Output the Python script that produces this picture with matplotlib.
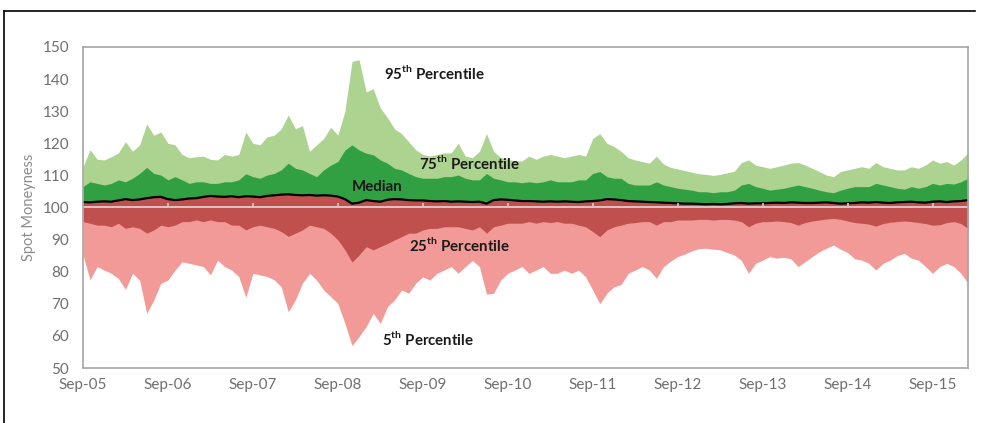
import numpy as np
import matplotlib
matplotlib.use("Agg")
import matplotlib.pyplot as plt
from matplotlib.lines import Line2D

plt.rcParams["font.family"] = ["Lato", "DejaVu Sans"]
plt.rcParams["mathtext.fontset"] = "custom"
plt.rcParams["mathtext.rm"] = "Lato"
plt.rcParams["mathtext.bf"] = "Lato:bold"

# monthly readings, Sep-05 .. Feb-16
p95 = [112.7, 118.0, 115.0, 114.8, 115.8, 117.0, 120.5, 117.5, 119.5, 126.0, 122.5, 123.5,
       120.0, 119.5, 116.5, 115.5, 115.8, 116.0, 115.0, 114.8, 116.5, 116.0, 116.5, 123.5,
       120.0, 119.5, 122.0, 122.5, 124.5, 128.8, 124.5, 125.5, 117.5, 119.5, 121.5, 125.0,
       122.5, 130.0, 145.5, 146.0, 136.0, 137.0, 131.0, 128.0, 124.5, 123.0, 120.5, 118.0,
       116.5, 116.0, 116.5, 117.0, 117.0, 120.0, 116.0, 115.5, 117.5, 123.0, 117.5, 115.5,
       115.0, 114.5, 114.5, 116.0, 115.0, 116.0, 116.5, 116.0, 115.5, 116.0, 116.5, 116.0,
       121.5, 123.0, 120.0, 119.0, 117.5, 115.5, 114.8, 114.3, 113.8, 116.0, 113.5, 112.5,
       112.0, 111.5, 111.0, 110.5, 110.3, 110.0, 110.3, 110.8, 111.3, 114.0, 114.8, 113.2,
       112.7, 112.2, 112.7, 113.2, 113.8, 114.0, 113.2, 112.2, 111.2, 110.1, 109.6, 111.2,
       111.7, 112.2, 112.7, 112.2, 114.0, 112.7, 112.2, 111.7, 111.7, 112.7, 112.2, 113.2,
       114.8, 113.8, 114.3, 113.2, 114.8, 117.0]
p75 = [106.5, 108.0, 107.5, 107.0, 107.5, 108.6, 108.0, 109.1, 110.6, 112.5, 110.6, 110.1,
       108.6, 109.6, 108.6, 107.5, 108.0, 108.0, 107.5, 107.5, 108.0, 108.0, 108.6, 110.5,
       109.6, 109.1, 110.1, 110.6, 111.7, 113.8, 112.2, 111.7, 110.6, 109.6, 111.7, 113.2,
       114.3, 117.9, 119.5, 117.9, 116.9, 116.4, 114.8, 113.8, 112.2, 111.7, 110.6, 109.6,
       109.1, 109.1, 109.1, 109.6, 109.6, 110.1, 109.1, 108.6, 108.6, 110.6, 109.1, 108.6,
       108.0, 108.0, 107.7, 108.0, 107.7, 108.0, 108.6, 108.0, 108.0, 108.0, 108.6, 108.6,
       110.6, 111.2, 109.6, 109.1, 109.1, 107.5, 107.0, 107.0, 107.0, 108.0, 107.0, 106.5,
       106.0, 105.7, 105.4, 104.9, 104.9, 104.6, 104.9, 104.9, 105.4, 107.0, 107.5, 106.5,
       106.0, 105.4, 105.7, 106.0, 106.5, 107.0, 106.5, 106.0, 105.4, 104.9, 104.6, 105.4,
       106.0, 106.5, 106.5, 106.5, 107.5, 107.0, 106.5, 106.0, 105.7, 106.5, 106.0, 106.5,
       107.5, 107.0, 107.5, 107.3, 108.0, 109.1]
median = [101.7, 101.6, 101.8, 101.9, 101.8, 102.2, 102.6, 102.3, 102.5, 102.9, 103.2, 103.3,
          102.6, 102.3, 102.5, 102.8, 102.9, 103.3, 103.6, 103.4, 103.3, 103.5, 103.2, 103.5,
          103.4, 103.2, 103.6, 103.8, 104.0, 104.1, 103.9, 103.8, 103.9, 103.7, 103.8, 103.7,
          103.4, 102.6, 101.2, 101.5, 102.3, 102.0, 101.8, 102.4, 102.6, 102.5, 102.3, 102.2,
          102.2, 102.0, 101.9, 102.0, 101.8, 101.9, 101.8, 101.7, 101.8, 101.2, 102.3, 102.5,
          102.4, 102.2, 102.0, 102.0, 101.9, 101.8, 101.9, 101.8, 101.9, 101.8, 101.7, 101.9,
          102.0, 102.2, 102.6, 102.5, 102.3, 102.0, 101.9, 101.8, 101.7, 101.6, 101.5, 101.4,
          101.3, 101.2, 101.2, 101.1, 101.0, 101.1, 101.0, 101.1, 101.3, 101.4, 101.2, 101.3,
          101.3, 101.4, 101.5, 101.4, 101.6, 101.5, 101.4, 101.4, 101.5, 101.6, 101.4, 101.2,
          101.3, 101.4, 101.6, 101.5, 101.7, 101.5, 101.4, 101.6, 101.7, 101.8, 101.6, 101.5,
          101.8, 101.9, 101.7, 101.9, 102.0, 102.3]
p25 = [95.6, 95.1, 94.5, 94.5, 94.0, 95.1, 93.5, 94.0, 93.5, 92.0, 93.0, 94.5,
       94.0, 94.5, 95.6, 95.6, 96.1, 95.6, 96.1, 95.6, 95.6, 94.5, 94.5, 93.0,
       94.0, 94.5, 94.0, 93.5, 92.5, 91.0, 92.0, 93.0, 94.5, 94.0, 93.5, 92.0,
       89.9, 86.8, 83.0, 85.2, 87.8, 86.8, 87.8, 88.8, 89.9, 90.9, 92.0, 92.0,
       93.0, 93.5, 93.5, 94.0, 94.0, 94.0, 93.5, 93.0, 94.0, 92.0, 94.0, 94.5,
       95.1, 95.1, 95.1, 95.6, 95.1, 95.6, 95.3, 95.6, 95.1, 95.1, 94.5, 94.0,
       92.5, 90.9, 93.0, 94.0, 94.5, 95.1, 95.3, 95.6, 95.6, 94.5, 95.6, 95.6,
       96.1, 96.1, 96.1, 96.3, 96.3, 96.1, 96.3, 96.3, 96.1, 95.6, 94.0, 95.1,
       95.6, 95.6, 95.8, 95.6, 95.3, 94.5, 95.3, 95.8, 96.1, 96.4, 96.6, 96.3,
       95.8, 95.3, 95.1, 94.8, 94.2, 95.0, 95.4, 95.6, 95.8, 95.6, 95.3, 95.0,
       94.5, 94.6, 95.3, 95.6, 95.0, 93.5]
p5 = [85.2, 77.5, 81.6, 80.5, 79.5, 77.9, 74.5, 79.5, 77.4, 67.0, 71.2, 76.4,
      77.4, 80.5, 83.1, 82.6, 82.1, 81.6, 79.0, 83.6, 81.6, 80.5, 78.5, 72.0,
      79.5, 79.0, 78.5, 77.5, 75.3, 67.5, 71.2, 76.4, 79.5, 77.4, 74.3, 72.2,
      70.1, 63.9, 57.0, 59.8, 62.9, 67.0, 63.9, 69.1, 71.2, 74.3, 73.3, 76.4,
      78.4, 77.4, 79.5, 80.5, 81.6, 79.5, 81.6, 83.5, 81.6, 73.0, 73.3, 77.4,
      79.5, 80.5, 81.6, 79.5, 80.5, 81.6, 79.5, 79.5, 80.5, 79.5, 80.5, 78.4,
      74.3, 70.0, 73.3, 75.3, 76.0, 79.5, 80.5, 81.6, 80.5, 77.9, 81.6, 83.3,
      84.7, 85.5, 86.5, 87.2, 87.3, 87.0, 86.8, 86.0, 85.2, 83.5, 79.5, 82.6,
      83.6, 84.7, 84.2, 84.5, 84.0, 81.6, 83.1, 84.7, 86.2, 87.3, 88.3, 87.0,
      86.0, 84.0, 83.6, 82.6, 80.5, 82.6, 83.6, 85.0, 85.7, 84.2, 83.6, 81.6,
      79.5, 81.6, 82.6, 81.6, 79.5, 76.4]

tick_labels = ["Sep-05", "Sep-06", "Sep-07", "Sep-08", "Sep-09", "Sep-10",
               "Sep-11", "Sep-12", "Sep-13", "Sep-14", "Sep-15"]

months = np.arange(len(p95))
base = 100

fig = plt.figure(figsize=(9.83, 4.23), dpi=100)
ax = fig.add_axes([0.0844, 0.130, 0.9003, 0.759])

ax.fill_between(months, base, p95, color="#acd490", lw=0)
ax.fill_between(months, base, p75, color="#31a043", lw=0)
ax.fill_between(months, base, median, color="#c0504d", lw=0)
ax.fill_between(months, p5, base, color="#f29a98", lw=0)
ax.fill_between(months, p25, base, color="#c0504d", lw=0)
ax.plot(months, median, color="black", lw=1.6)

# category axis crossing at 100, ticks pointing up
ticks = np.arange(0, len(p95), 12)
ax.axhline(base, color="#dcc6c6", lw=1.4)
ax.vlines(ticks[1:], base, base + 1.3, color="#dcc6c6", lw=1.2)

ax.set_xlim(0, len(p95) - 1)
ax.set_ylim(50, 150)
ax.set_yticks(np.arange(50, 151, 10))
ax.set_xticks(ticks)
ax.set_xticklabels(tick_labels)
ax.tick_params(axis="both", length=0, labelsize=11, colors="#6f6f6f")
ax.tick_params(axis="y", pad=10)
ax.tick_params(axis="x", pad=7)
for s in ax.spines.values():
    s.set_color("#a6a6a6")
    s.set_linewidth(1.2)
ax.set_ylabel("Spot Moneyness", color="#8c8c8c", fontsize=10.5, labelpad=5)

lab = dict(fontsize=10.8, fontweight="bold", color="#1a1a1a", ha="left", va="center")
ax.text(42.5, 141.9, r"95$^{\mathbf{th}}$ Percentile", **lab)
ax.text(47.4, 113.9, r"75$^{\mathbf{th}}$ Percentile", **lab)
ax.text(37.9, 106.4, "Median", **lab)
ax.text(46.1, 88.3, r"25$^{\mathbf{th}}$ Percentile", **lab)
ax.text(42.3, 59.0, r"5$^{\mathbf{th}}$ Percentile", **lab)

# outer frame (top and left edges)
fig.add_artist(Line2D([0.004, 0.992], [0.974, 0.974], color="black", lw=1.2))
fig.add_artist(Line2D([0.004, 0.004], [0.0, 0.974], color="black", lw=1.2))

fig.savefig("out.png", dpi=100)
